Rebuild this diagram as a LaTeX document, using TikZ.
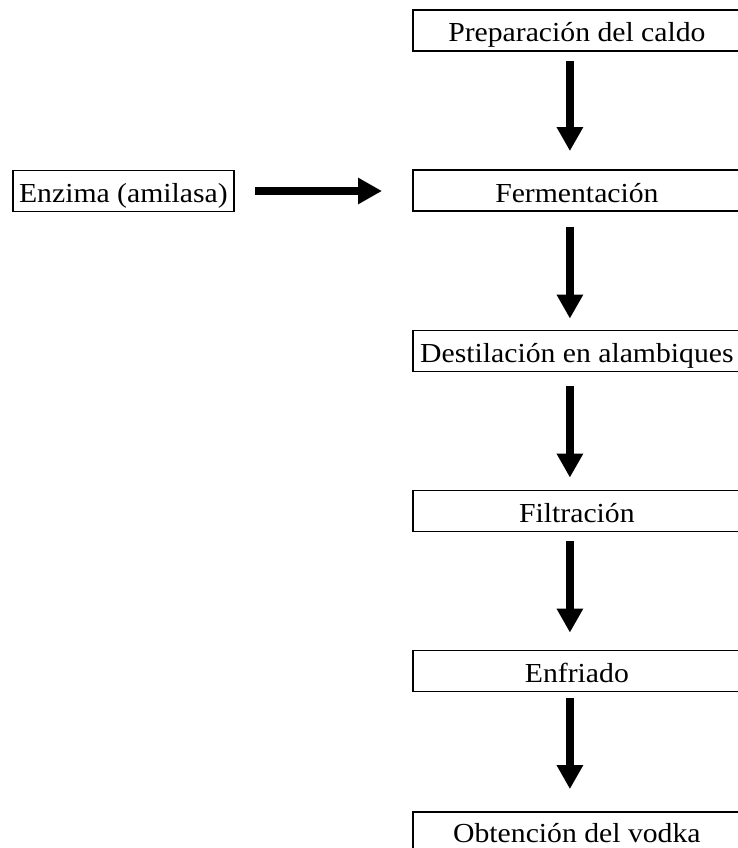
\documentclass[tikz,border=0pt]{standalone}
\usepackage{fontspec}
\setmainfont[FakeStretch=1.08]{Liberation Serif}
\usepackage{tikz}
\usetikzlibrary{arrows.meta}

\tikzset{
    box/.style={draw, line width=1.8pt, anchor=west, minimum width=328pt, minimum height=41pt, inner sep=0pt, text height=23pt, text depth=0pt, font=\fontsize{27.5}{30}\selectfont},
    flow/.style={line width=8pt, -{Triangle[width=25pt, length=24pt]}}
}

\begin{document}
\begin{tikzpicture}[x=1pt, y=-1pt]
    \useasboundingbox[fill=white] (0, 0) rectangle (737, 848);
    \node[box] (prep) at (412, 30.5) {Preparación del caldo};
    \node[box] (ferm) at (412, 190.5) {Fermentación};
    \node[box] (dest) at (412, 351) {Destilación en alambiques};
    \node[box] (filt) at (412, 511) {Filtración};
    \node[box] (enfr) at (412, 671) {Enfriado};
    \node[box, minimum height=38pt] (obt) at (412, 831) {Obtención del vodka};
    \node[box, minimum width=221pt] (enz) at (12, 191) {Enzima (amilasa)};

    \draw[flow, shorten <=20pt, shorten >=30pt] (enz.east) -- (enz.east -| ferm.west);
    \draw[flow, shorten <=9pt, shorten >=18pt] ([xshift=-7pt]prep.south) -- ([xshift=-7pt]ferm.north);
    \draw[flow, shorten <=15pt, shorten >=11pt] ([xshift=-7pt]ferm.south) -- ([xshift=-7pt]dest.north);
    \draw[flow, shorten <=14pt, shorten >=12pt] ([xshift=-7pt]dest.south) -- ([xshift=-7pt]filt.north);
    \draw[flow, shorten <=9pt, shorten >=17pt] ([xshift=-7pt]filt.south) -- ([xshift=-7pt]enfr.north);
    \draw[flow, shorten <=6pt, shorten >=22pt] ([xshift=-7pt]enfr.south) -- ([xshift=-7pt]obt.north);
\end{tikzpicture}
\end{document}
